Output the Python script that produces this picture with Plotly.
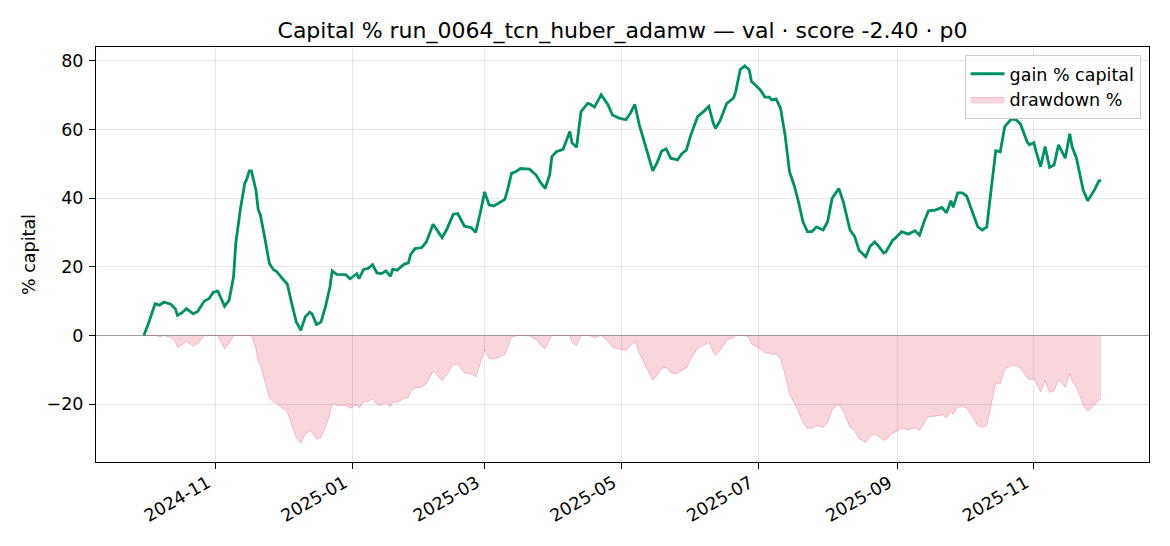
import pandas as pd
import plotly.graph_objects as go

# days since first point
start = "2024-09-30"
day = [0, 2, 5, 7, 9, 12, 14, 15, 17, 19, 22, 24, 27, 29, 31, 33, 36, 38, 40, 41,
       43, 45, 46, 47, 48, 50, 51, 52, 54, 56, 58, 59, 61, 64, 66, 68, 70, 71, 72, 74,
       75, 77, 79, 81, 83, 84, 86, 90, 92, 95, 96, 98, 100, 102, 104, 106,
       108, 110, 111, 113, 116, 118, 119, 121, 124, 126, 129, 130, 133, 135, 138, 140, 143, 146, 148, 150,
       152, 154, 156, 158, 161, 162, 164, 166, 168, 172, 175, 177, 179, 181, 182, 184, 187, 190, 191, 193,
       195, 198, 199, 201, 204, 207, 209, 212,
       213, 215, 217, 219, 221, 224, 227, 229, 231, 233, 235, 238, 240, 242, 244, 247, 248, 250, 252, 254,
       255, 257, 260, 263, 264, 266, 268, 270, 271, 273, 275, 277, 279, 280, 282, 284, 286, 288, 290, 292,
       294, 296, 298, 300, 303, 305, 307, 310, 312, 315, 317, 319, 322,
       324, 326, 328, 330, 331, 334, 335, 338, 341, 344, 346, 348, 350, 353, 356, 358, 360, 361, 363, 365,
       367, 370, 372, 374, 376, 378, 380, 382, 384, 387, 389, 391, 394, 395, 397, 398, 400, 402, 404, 406,
       408, 411, 413, 414, 416, 419, 421, 424, 426, 427]
gain = [0, 3.4, 9.2, 8.8, 9.7, 9.1, 7.8, 5.8, 6.6, 7.8, 6.3, 7.0, 10.0, 10.7, 12.6, 12.9, 8.5, 10.2, 17.0, 26.8,
        36.5, 44.3, 45.7, 47.9, 47.9, 42.3, 36.7, 35.0, 28.2, 20.9, 19.0, 18.8, 17.2, 14.9, 9.2, 3.9, 1.5, 3.4, 5.4, 6.8,
        6.3, 3.2, 3.9, 8.3, 14.1, 18.8, 17.8, 17.7, 16.5, 18.0, 16.5, 19.2, 19.5, 20.6, 18.2, 18.0,
        18.8, 17.2, 19.3, 19.0, 20.7, 21.1, 23.6, 25.3, 25.6, 27.2, 32.4, 31.4, 28.5, 30.7, 35.3, 35.5, 31.8, 31.4, 30.0, 35.5,
        41.8, 38.0, 37.7, 38.4, 39.6, 41.8, 47.2, 47.7, 48.6, 48.4, 46.7, 44.5, 42.8, 46.7, 52.1, 53.5, 54.2, 59.4, 56.0, 54.8,
        65.2, 67.6, 67.4, 66.5, 70.1, 67.2, 64.2, 63.3,
        63.2, 62.8, 64.7, 67.3, 61.3, 54.5, 47.9, 50.4, 53.7, 54.3, 51.6, 51.1, 52.9, 54.0, 58.4, 63.7, 64.2, 65.4, 66.7, 61.8,
        60.3, 62.5, 67.6, 69.1, 71.0, 77.4, 78.5, 77.4, 74.0, 72.8, 71.5, 69.4, 69.4, 68.6, 68.9, 66.2, 58.4, 47.7, 43.8, 38.9,
        33.1, 30.2, 30.2, 31.6, 30.7, 33.1, 39.9, 42.8, 38.9, 30.7, 28.9, 24.8, 22.9,
        26.0, 27.2, 25.8, 24.0, 24.3, 27.7, 28.2, 30.2, 29.5, 30.5, 29.2, 33.1, 36.3, 36.5, 37.3, 35.7, 39.2, 37.3, 41.5, 41.5,
        40.6, 35.5, 31.6, 30.7, 31.6, 42.8, 53.8, 53.5, 60.8, 63.1, 62.8, 61.6, 56.4, 55.5, 56.1, 53.5, 49.1, 55.0, 48.9, 49.6,
        55.5, 51.6, 58.7, 55.0, 51.6, 42.3, 39.2, 42.3, 45.0, 45.1]

df = pd.DataFrame({'day': day, 'gain': gain})
df['date'] = pd.Timestamp(start) + pd.to_timedelta(df['day'], unit='D')
cap = 1 + df['gain'] / 100
df['dd'] = (cap / cap.cummax() - 1) * 100

# matplotlib-like 5% padding
xspan = df['date'].max() - df['date'].min()
xr = [df['date'].min() - xspan * 0.05, df['date'].max() + xspan * 0.05]
lo, hi = df['dd'].min(), df['gain'].max()
yr = [lo - (hi - lo) * 0.05, hi + (hi - lo) * 0.05]

font = "DejaVu Sans"
fs = 17.5
fig = go.Figure()
fig.add_trace(go.Scatter(x=df['date'], y=df['dd'], name='drawdown %', fill='tozeroy',
                         mode='lines', line=dict(color='rgba(220,20,60,0.22)', width=1),
                         fillcolor='rgba(220,20,60,0.18)', legendrank=2))
fig.add_trace(go.Scatter(x=df['date'], y=df['gain'], name='gain % capital', mode='lines',
                         line=dict(color='#009063', width=2.8), legendrank=1))

axis = dict(showline=True, mirror=True, linecolor='black', linewidth=1, ticks='outside',
            ticklen=6, tickcolor='black', gridcolor='rgba(176,176,176,0.3)', gridwidth=1,
            tickfont=dict(family=font, size=fs, color='black'))
fig.update_xaxes(axis, range=xr, tickvals=pd.date_range('2024-11-01', '2025-11-01', freq='2MS'),
                 tickformat='%Y-%m', tickangle=-30, zeroline=False,
                 ticklabelshift=-8, ticklabelstandoff=-3)
fig.update_yaxes(axis, range=yr, tickvals=[-20, 0, 20, 40, 60, 80], zeroline=True,
                 zerolinecolor='rgba(128,128,128,0.75)', zerolinewidth=1, ticklabelstandoff=2,
                 title=dict(text='% capital', font=dict(family=font, size=fs, color='black'), standoff=6))
# page has an 8px body margin, so the figure is 8px smaller
fig.update_layout(
    width=1162, height=538, plot_bgcolor='white', paper_bgcolor='white',
    margin=dict(l=88, r=21, t=39, b=84),
    title=dict(text='Capital % run_0064_tcn_huber_adamw — val · score -2.40 · p0',
               x=0.5, xref='paper', y=0.959, yref='container', yanchor='middle',
               font=dict(family=font, size=22, color='black')),
    legend=dict(x=0.992, y=0.981, xanchor='right', yanchor='top', bgcolor='rgba(255,255,255,0.8)',
                bordercolor='#cccccc', borderwidth=1, itemwidth=34,
                font=dict(family=font, size=fs, color='black')),
    font=dict(family=font),
)
fig.write_html("out.html")
